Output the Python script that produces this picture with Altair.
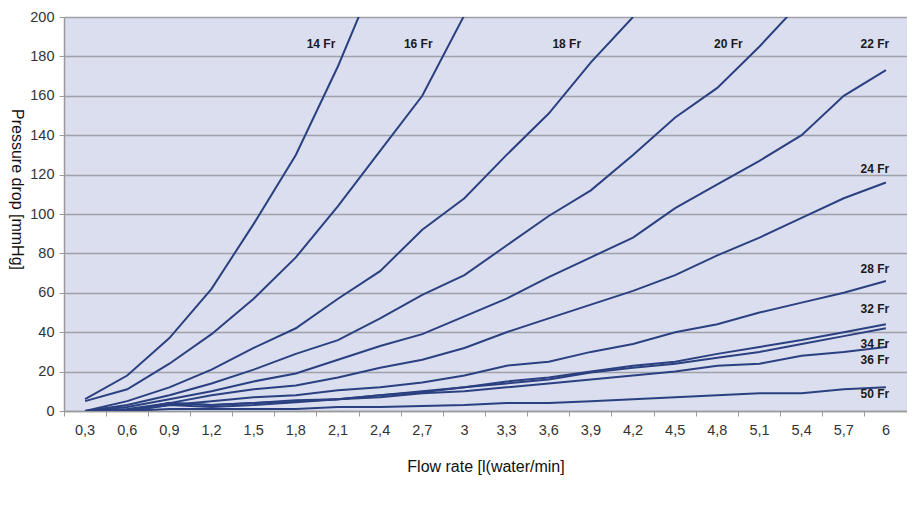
import altair as alt
import pandas as pd

# ---- data ----
flow = ["0,3", "0,6", "0,9", "1,2", "1,5", "1,8", "2,1", "2,4", "2,7", "3",
        "3,3", "3,6", "3,9", "4,2", "4,5", "4,8", "5,1", "5,4", "5,7", "6"]

fr14 = [6, 18, 37, 62, 95, 130, 175, 226]
fr16 = [5, 11, 24, 39, 57, 78, 104, 132, 160, 201]
fr18 = [0, 5, 12, 21, 32, 42, 57, 71, 92, 108, 130, 151, 177, 200]
fr20 = [0, 3, 8, 14, 21, 29, 36, 47, 59, 69, 84, 99, 112, 130, 149, 164, 185, 208]
fr22 = [0, 2, 6, 10, 15, 19, 26, 33, 39, 48, 57, 68, 78, 88, 103, 115, 127, 140, 160, 173]
fr24 = [0, 1, 4, 8, 11, 13, 17, 22, 26, 32, 40, 47, 54, 61, 69, 79, 88, 98, 108, 116]
fr28 = [0, 0, 3, 5, 7, 8, 10.5, 12, 14.5, 18, 23, 25, 30, 34, 40, 44, 50, 55, 60, 66]
fr32 = [0, 0, 4, 3, 4, 5.5, 6, 8, 10, 12, 15, 17, 20, 23, 25, 29, 32.5, 36, 40, 44]
fr34 = [0, 0, 4, 3, 4, 5, 6, 8, 9.5, 12, 14, 16, 19.5, 22, 24, 27, 30, 34, 38, 42]
fr36 = [0, 0, 3, 2, 3, 4.5, 6, 7, 9, 10, 12, 14, 16, 18, 20, 23, 24, 28, 30, 32.5]
fr50 = [0, 0, 1, 1, 1, 1, 2, 2, 2.5, 3, 4, 4, 5, 6, 7, 8, 9, 9, 11, 12]

series_names = ["14 Fr", "16 Fr", "18 Fr", "20 Fr", "22 Fr", "24 Fr",
                "28 Fr", "32 Fr", "34 Fr", "36 Fr", "50 Fr"]
series_values = [fr14, fr16, fr18, fr20, fr22, fr24, fr28, fr32, fr34, fr36, fr50]

label_names = ["14 Fr", "16 Fr", "18 Fr", "20 Fr", "22 Fr", "24 Fr",
               "28 Fr", "32 Fr", "34 Fr", "36 Fr", "50 Fr"]
label_flow = ["2,1", "2,7", "3,6", "4,8", "6", "6", "6", "6", "6", "6", "6"]
label_value = [186.5, 186.5, 186.5, 186.5, 186.5, 123, 72, 52, 34, 26, 8.5]
y_ticks = [0, 20, 40, 60, 80, 100, 120, 140, 160, 180, 200]

# ---- styling ----
label_dx = {"14 Fr": -17, "16 Fr": -4, "18 Fr": 18, "20 Fr": 11}
right_dx = -11
LINE = "#2b4080"
GRID = "#9fa0aa"
BG = "#dadeee"
FONT = "Liberation Sans"

rows = []
for name, vals in zip(series_names, series_values):
    for f, v in zip(flow, vals):
        rows.append({"flow": f, "pressure": v, "size": name})
df = pd.DataFrame(rows)

labels = pd.DataFrame({"label": label_names, "flow": label_flow, "pressure": label_value})

xscale = alt.Scale(type="band", domain=flow, paddingInner=0, paddingOuter=0)
yscale = alt.Scale(domain=[0, 200], nice=False)

x_axis = alt.Axis(
    title="Flow rate [l(water/min]", labelAngle=0, bandPosition=0,
    tickSize=5, tickColor="#9a9a9a", domainColor="#9a9a9a", domainWidth=1.5,
    labelFontSize=14.5, labelColor="#333333", labelFont=FONT, labelPadding=7,
    labelOverlap=False,
    titleFont=FONT, titleFontSize=16, titleFontWeight="normal",
    titleColor="#111111", titlePadding=22, grid=False,
)
y_axis = alt.Axis(
    values=y_ticks, title="Pressure drop [mmHg]", labelOverlap=False,
    titleAngle=90, titleX=-48, titleY=172, titleAlign="center",
    titleBaseline="middle", titleFont=FONT, titleFontSize=16,
    titleFontWeight="normal", titleColor="#111111",
    grid=True, gridColor=GRID, gridWidth=1.6,
    tickSize=5, tickColor="#9a9a9a", domainColor="#9a9a9a", domainWidth=1.5,
    labelFontSize=14.5, labelColor="#333333", labelFont=FONT, labelPadding=5,
)

x_enc = alt.X("flow:O", scale=xscale, bandPosition=0.5, axis=x_axis)
y_enc = alt.Y("pressure:Q", scale=yscale, axis=y_axis)

lines = alt.Chart(df).mark_line(clip=True, color=LINE, strokeWidth=2).encode(
    x=x_enc, y=y_enc, detail="size:N"
)

layers = [lines]
for name in label_names:
    dx = label_dx.get(name, right_dx)
    t = alt.Chart(labels).transform_filter(alt.datum.label == name).mark_text(
        font=FONT, fontSize=12, fontWeight="bold", color="#1a1a1a",
        dx=dx, align="center", baseline="middle",
    ).encode(x=x_enc, y=y_enc, text="label:N")
    layers.append(t)

chart = alt.layer(*layers).properties(
    width=843, height=394,
    autosize=alt.AutoSizeParams(type="none"),
    padding={"left": 56, "top": 9, "right": 0, "bottom": 90},
    view=alt.ViewBackground(fill=BG, strokeWidth=0),
).configure_view(fill=BG, strokeWidth=0).configure(background="white")

chart.save("out.html", embed_options={"renderer": "svg", "actions": False})
